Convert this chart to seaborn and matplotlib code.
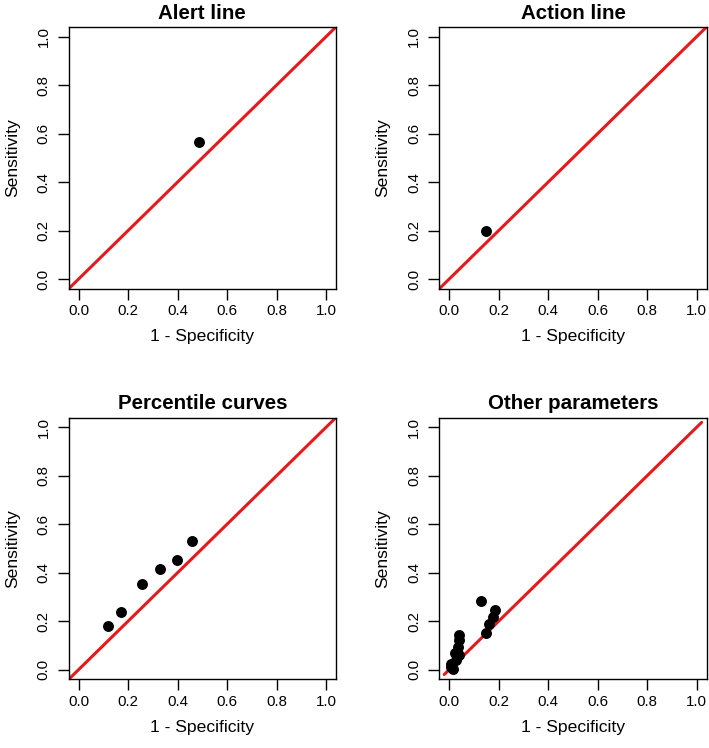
import numpy as np
import pandas as pd
import matplotlib
matplotlib.use('Agg')
import matplotlib.pyplot as plt
import seaborn as sns

# valeurs
alert_x = [0.488]
alert_y = [0.566]
action_x = [0.148]
action_y = [0.197]
pct_x = [0.119, 0.171, 0.258, 0.328, 0.398, 0.460]
pct_y = [0.178, 0.236, 0.355, 0.417, 0.454, 0.531]
other_x = [0.008, 0.017, 0.008, 0.027, 0.038, 0.022, 0.035, 0.038, 0.040,
           0.129, 0.148, 0.161, 0.175, 0.185]
other_y = [0.022, 0.004, 0.010, 0.038, 0.059, 0.069, 0.093, 0.121, 0.144,
           0.283, 0.151, 0.187, 0.217, 0.247]
titles = ['Alert line', 'Action line', 'Percentile curves', 'Other parameters']
# diagonale de référence (étendue de la ligne par panneau)
diag_lo = [-0.04, -0.04, -0.04, -0.02]
diag_hi = [1.04, 1.04, 1.04, 1.02]
ticks = [0.0, 0.2, 0.4, 0.6, 0.8, 1.0]

sns.set_theme(style='white')
plt.rcParams['font.family'] = ['Liberation Sans', 'DejaVu Sans']
plt.rcParams['text.color'] = 'black'
plt.rcParams['axes.labelcolor'] = 'black'
plt.rcParams['xtick.color'] = 'black'
plt.rcParams['ytick.color'] = 'black'

panels = [(alert_x, alert_y), (action_x, action_y), (pct_x, pct_y), (other_x, other_y)]
positions = [[0.0969, 0.614, 0.377, 0.350], [0.6196, 0.614, 0.377, 0.350],
             [0.0969, 0.0918, 0.377, 0.350], [0.6196, 0.0918, 0.377, 0.350]]

fig = plt.figure(figsize=(7.09, 7.48), dpi=100)
for i, (xs, ys) in enumerate(panels):
    ax = fig.add_axes(positions[i])
    df = pd.DataFrame({'x': xs, 'y': ys})
    diag = pd.DataFrame({'x': [diag_lo[i], diag_hi[i]], 'y': [diag_lo[i], diag_hi[i]]})
    sns.lineplot(data=diag, x='x', y='y', color='#e41a1c', linewidth=2.2, ax=ax, zorder=2)
    sns.scatterplot(data=df, x='x', y='y', color='black', s=62, edgecolor='black',
                    linewidth=0, ax=ax, zorder=3)
    ax.set_xlim(-0.04, 1.04)
    ax.set_ylim(-0.04, 1.04)
    ax.set_xticks(ticks)
    ax.set_yticks(ticks)
    ax.set_xticklabels([f'{t:.1f}' for t in ticks], fontsize=10.8)
    ax.set_yticklabels([f'{t:.1f}' for t in ticks], fontsize=10.8, rotation=90, va='center')
    ax.tick_params(axis='both', direction='out', length=8, width=1.0, color='black',
                   labelcolor='black', bottom=True, left=True)
    ax.tick_params(axis='x', pad=3)
    ax.tick_params(axis='y', pad=5)
    for s in ax.spines.values():
        s.set_color('black')
        s.set_linewidth(1.0)
    ax.set_xlabel('1 - Specificity', fontsize=12.6, labelpad=8, color='black')
    ax.set_ylabel('Sensitivity', fontsize=12.6, labelpad=12, color='black')
    ax.set_title(titles[i], fontsize=14.8, fontweight='bold', pad=6, color='black')

fig.savefig('out.png', dpi=100)
